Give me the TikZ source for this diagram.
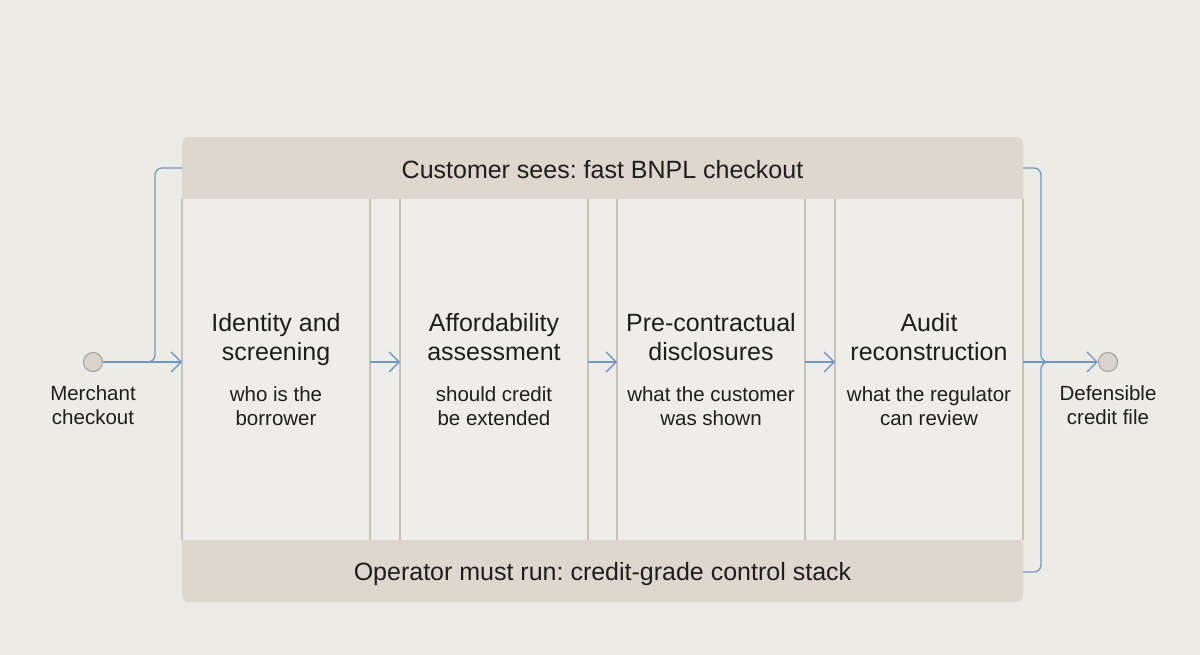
\documentclass[tikz,border=0pt]{standalone}
\usepackage{fontspec}
\setmainfont{Liberation Sans}
\usetikzlibrary{arrows.meta}
\frenchspacing
\definecolor{bg}{HTML}{EDEBE6}
\definecolor{band}{HTML}{DDD7CD}
\definecolor{inner}{HTML}{EFEDE9}
\definecolor{sep}{HTML}{C9C1B6}
\definecolor{flowc}{HTML}{6F98C6}
\definecolor{dotfill}{HTML}{DAD5CC}
\definecolor{dotdraw}{HTML}{ACA69D}
\definecolor{ink}{HTML}{1E1E1E}
\tikzset{
  colbox/.style={fill=inner, minimum width=188pt, minimum height=341pt, inner sep=0pt, outer sep=0pt},
  bandtxt/.style={minimum width=841pt, minimum height=62pt, inner sep=0pt, outer sep=0pt, text=ink, font=\fontsize{25}{29}\selectfont},
  ttl/.style={anchor=base, align=center, inner sep=0pt, text=ink, font=\fontsize{25}{29}\selectfont},
  sub/.style={anchor=base, align=center, inner sep=0pt, text=ink, font=\fontsize{20.5}{24}\selectfont},
  lbl/.style={anchor=base, align=center, inner sep=0pt, text=ink, font=\fontsize{20.5}{24}\selectfont},
  dot/.style={circle, fill=dotfill, draw=dotdraw, line width=1.2pt, minimum size=19pt, inner sep=0pt},
  flow/.style={draw=flowc, line width=1.3pt},
  tip/.style={-{Straight Barb[length=10pt,width=20pt]}},
  sepline/.style={draw=sep, line width=1.1pt}
}
\begin{document}
\begin{tikzpicture}[x=1pt,y=-1pt]
\useasboundingbox (0,0) rectangle (1200,655);
\fill[bg] (0,0) rectangle (1200,655);
% panel
\fill[band, rounded corners=7pt] (182,137) rectangle (1023,602);
\node[colbox] (c1) at (276,369.5) {};
\node[colbox] (c2) at (494,369.5) {};
\node[colbox] (c3) at (711,369.5) {};
\node[colbox] (c4) at (929,369.5) {};
\fill[inner] (370,199) rectangle (400,540);
\fill[inner] (588,199) rectangle (617,540);
\fill[inner] (805,199) rectangle (835,540);
\foreach \c in {c1,c2,c3,c4}{
  \draw[sepline] (\c.north west) -- (\c.south west);
  \draw[sepline] (\c.north east) -- (\c.south east);
}
\node[bandtxt] (top) at (602.5,170) {Customer sees: fast BNPL checkout};
\node[bandtxt] (bot) at (602.5,574) {Operator must run: credit-grade control stack};
% column texts
\node[ttl] (t1) at (276,360) {Identity and\\screening};
\node[sub] (s1) at (276,425) {who is the\\borrower};
\node[ttl] (t2) at (494,360) {Affordability\\assessment};
\node[sub] (s2) at (494,425) {should credit\\be extended};
\node[ttl] (t3) at (711,360) {Pre-contractual\\disclosures};
\node[sub] (s3) at (711,425) {what the customer\\was shown};
\node[ttl] (t4) at (929,360) {Audit\\reconstruction};
\node[sub] (s4) at (929,425) {what the regulator\\can review};
% end points
\node[dot] (m) at (93,362) {};
\node[lbl] (ml) at (93,424) {Merchant\\checkout};
\node[dot] (d) at (1108,362) {};
\node[lbl] (dl) at (1108,424) {Defensible\\credit file};
\coordinate (jl0) at (146,362);
\coordinate (jl) at (155,362);
\coordinate (jr) at (1041,362);
% connectors
\draw[flow,tip] (m.east) -- (c1.west |- m.east);
\draw[flow, rounded corners=7pt] (jl0) -- (jl) |- ([yshift=2pt]top.west);
\draw[flow,tip] (c1.east |- m.east) -- (c2.west |- m.east);
\draw[flow,tip] (c2.east |- m.east) -- (c3.west |- m.east);
\draw[flow,tip] (c3.east |- m.east) -- (c4.west |- m.east);
\draw[flow, rounded corners=7pt] ([yshift=2pt]top.east) -| (jr) -- ++(9,0);
\draw[flow, rounded corners=7pt] ([yshift=2pt]bot.east) -| (jr) -- ++(9,0);
\draw[flow,tip] (c4.east |- d.west) -- (d.west);
\end{tikzpicture}
\end{document}
